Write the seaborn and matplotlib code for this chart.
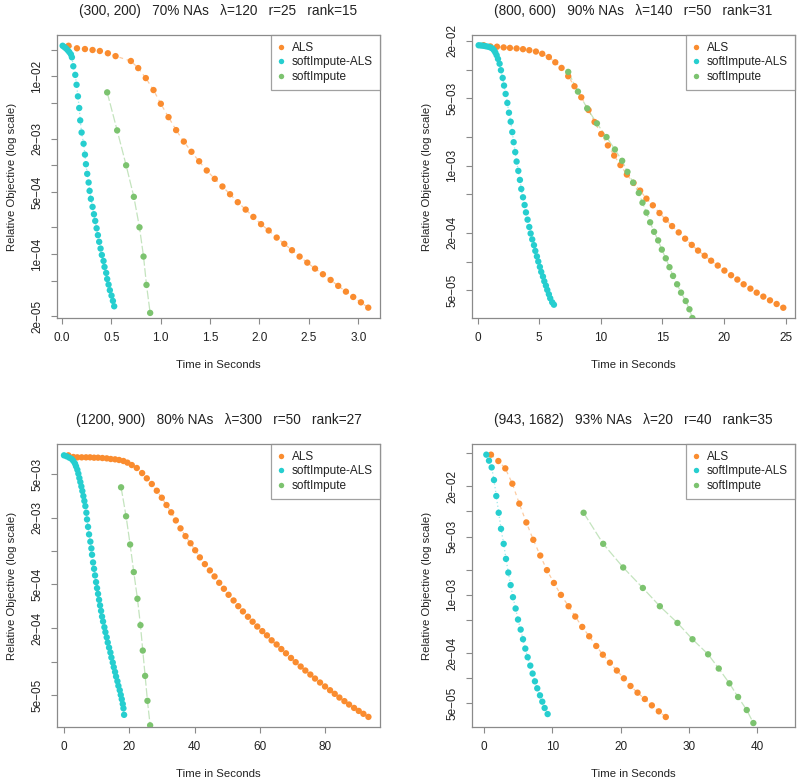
import numpy as np
import pandas as pd
import matplotlib
matplotlib.use("Agg")
import matplotlib.pyplot as plt
import seaborn as sns

sns.set_style("white")
plt.rcParams['font.family'] = ['Liberation Sans', 'DejaVu Sans']

# ==============================
# data
# ==============================
methods = ["ALS", "softImpute-ALS", "softImpute"]

# --- (300, 200) ---
p1_als_t = [0.067, 0.152, 0.233, 0.310, 0.384, 0.465, 0.543, 0.698, 0.772, 0.849, 0.927, 1.001,
            1.079, 1.156, 1.234, 1.311, 1.389, 1.466, 1.547, 1.625, 1.702, 1.780, 1.860, 1.938,
            2.016, 2.093, 2.174, 2.251, 2.329, 2.406, 2.484, 2.562, 2.642, 2.720, 2.797, 2.875,
            2.949, 3.027, 3.101]
p1_als_obj = [2.21e-2, 2.07e-2, 2.03e-2, 1.98e-2, 1.93e-2, 1.82e-2, 1.69e-2, 1.49e-2, 1.24e-2,
              9.57e-3, 7.02e-3, 4.92e-3, 3.48e-3, 2.49e-3, 1.85e-3, 1.42e-3, 1.11e-3, 8.75e-4,
              7.05e-4, 5.78e-4, 4.73e-4, 3.85e-4, 3.18e-4, 2.63e-4, 2.18e-4, 1.85e-4, 1.54e-4,
              1.31e-4, 1.11e-4, 9.42e-5, 8.05e-5, 6.90e-5, 5.96e-5, 5.14e-5, 4.41e-5, 3.80e-5,
              3.31e-5, 2.88e-5, 2.51e-5]
p1_sals_t = [0.007, 0.024, 0.040, 0.057, 0.074, 0.091, 0.101, 0.115, 0.135, 0.148, 0.162, 0.175,
             0.185, 0.199, 0.219, 0.233, 0.243, 0.256, 0.270, 0.280, 0.293, 0.310, 0.324, 0.337,
             0.351, 0.364, 0.377, 0.391, 0.404, 0.421, 0.431, 0.448, 0.458, 0.472, 0.485, 0.502,
             0.516, 0.529]
p1_sals_obj = [2.21e-2, 2.14e-2, 2.07e-2, 1.98e-2, 1.88e-2, 1.77e-2, 1.64e-2, 1.30e-2, 1.04e-2,
               8.05e-3, 5.96e-3, 4.41e-3, 3.20e-3, 2.34e-3, 1.75e-3, 1.32e-3, 1.03e-3, 8.02e-4,
               6.41e-4, 5.16e-4, 4.20e-4, 3.41e-4, 2.82e-4, 2.37e-4, 1.96e-4, 1.64e-4, 1.38e-4,
               1.16e-4, 9.82e-5, 8.41e-5, 7.20e-5, 6.17e-5, 5.27e-5, 4.56e-5, 3.94e-5, 3.43e-5,
               2.99e-5, 2.60e-5]
p1_si_t = [0.458, 0.559, 0.650, 0.728, 0.785, 0.826, 0.856, 0.893]
p1_si_obj = [6.61e-3, 2.47e-3, 1.00e-3, 4.42e-4, 2.01e-4, 9.42e-5, 4.52e-5, 2.19e-5]

# --- (800, 600) ---
p2_als_t = [0.49, 1.03, 1.57, 2.11, 2.62, 3.16, 3.68, 4.19, 4.73, 5.24, 5.78, 6.30, 6.81, 7.35,
            7.86, 8.41, 9.00, 9.49, 10.03, 10.57, 11.08, 11.59, 12.11, 12.65, 13.19, 13.70, 14.22,
            14.76, 15.27, 15.78, 16.32, 16.84, 17.38, 17.89, 18.43, 18.95, 19.49, 20.03, 20.57,
            21.08, 21.59, 22.14, 22.65, 23.19, 23.73, 24.27, 24.81]
p2_als_obj = [1.79e-2, 1.74e-2, 1.73e-2, 1.70e-2, 1.68e-2, 1.66e-2, 1.63e-2, 1.59e-2, 1.54e-2,
              1.46e-2, 1.35e-2, 1.19e-2, 1.04e-2, 8.52e-3, 6.70e-3, 5.14e-3, 3.79e-3, 2.84e-3,
              2.13e-3, 1.62e-3, 1.27e-3, 1.01e-3, 8.05e-4, 6.59e-4, 5.48e-4, 4.52e-4, 3.85e-4,
              3.20e-4, 2.73e-4, 2.34e-4, 2.01e-4, 1.73e-4, 1.49e-4, 1.30e-4, 1.15e-4, 1.02e-4,
              9.08e-5, 8.05e-5, 7.20e-5, 6.49e-5, 5.79e-5, 5.22e-5, 4.74e-5, 4.31e-5, 3.94e-5,
              3.61e-5, 3.30e-5]
p2_sals_t = [0.08, 0.27, 0.46, 0.65, 0.84, 1.03, 1.19, 1.32, 1.43, 1.54, 1.65, 1.78, 1.89, 2.03,
             2.14, 2.27, 2.41, 2.54, 2.68, 2.81, 2.92, 3.05, 3.16, 3.30, 3.43, 3.54, 3.68, 3.81,
             3.92, 4.05, 4.19, 4.30, 4.43, 4.57, 4.68, 4.81, 4.92, 5.05, 5.16, 5.30, 5.41, 5.54,
             5.65, 5.78, 5.89, 6.05, 6.19]
p2_sals_obj = [1.79e-2, 1.78e-2, 1.77e-2, 1.75e-2, 1.73e-2, 1.70e-2, 1.66e-2, 1.59e-2, 1.51e-2,
               1.41e-2, 1.29e-2, 1.15e-2, 9.84e-3, 8.18e-3, 6.81e-3, 5.57e-3, 4.49e-3, 3.55e-3,
               2.86e-3, 2.23e-3, 1.75e-3, 1.38e-3, 1.10e-3, 8.80e-4, 7.08e-4, 5.70e-4, 4.67e-4,
               3.88e-4, 3.25e-4, 2.73e-4, 2.29e-4, 1.96e-4, 1.70e-4, 1.48e-4, 1.29e-4, 1.13e-4,
               1.00e-4, 8.79e-5, 7.80e-5, 6.97e-5, 6.22e-5, 5.61e-5, 5.06e-5, 4.56e-5, 4.14e-5,
               3.76e-5, 3.55e-5]
p2_si_t = [7.35, 8.14, 8.89, 9.68, 10.46, 11.14, 11.73, 12.16, 12.62, 13.08, 13.38, 13.70, 14.00,
           14.32, 14.65, 14.95, 15.27, 15.57, 15.86, 16.19, 16.51, 16.89, 17.19, 17.43]
p2_si_obj = [9.45e-3, 5.89e-3, 3.94e-3, 2.75e-3, 1.98e-3, 1.47e-3, 1.12e-3, 8.59e-4, 6.64e-4,
             5.18e-4, 4.10e-4, 3.23e-4, 2.56e-4, 2.04e-4, 1.66e-4, 1.33e-4, 1.08e-4, 8.73e-5,
             7.08e-5, 5.79e-5, 4.74e-5, 3.88e-5, 3.18e-5, 2.58e-5]

# --- (1200, 900) ---
p3_als_t = [1.43, 2.96, 4.18, 5.51, 6.84, 8.06, 9.29, 10.51, 11.84, 13.16, 14.39, 15.71, 16.94,
            18.27, 19.49, 20.82, 22.35, 23.98, 25.41, 26.94, 28.47, 30.00, 31.43, 32.86, 34.29,
            35.71, 37.24, 38.78, 40.20, 41.63, 43.16, 44.69, 46.12, 47.55, 48.98, 50.41, 51.94,
            53.37, 54.80, 56.33, 57.76, 59.18, 60.71, 62.14, 63.57, 65.10, 66.53, 67.96, 69.49,
            70.92, 72.45, 73.88, 75.41, 76.84, 78.37, 79.90, 81.43, 82.86, 84.29, 85.82, 87.24,
            88.78, 90.20, 91.63, 93.16]
p3_als_obj = [7.38e-3, 7.13e-3, 7.08e-3, 7.08e-3, 7.08e-3, 7.08e-3, 7.03e-3, 7.03e-3, 6.98e-3,
              6.93e-3, 6.84e-3, 6.79e-3, 6.70e-3, 6.56e-3, 6.34e-3, 6.03e-3, 5.67e-3, 5.10e-3,
              4.57e-3, 4.06e-3, 3.53e-3, 3.05e-3, 2.62e-3, 2.25e-3, 1.90e-3, 1.61e-3, 1.37e-3,
              1.18e-3, 1.02e-3, 8.79e-4, 7.64e-4, 6.70e-4, 5.91e-4, 5.18e-4, 4.57e-4, 4.03e-4,
              3.58e-4, 3.18e-4, 2.85e-4, 2.55e-4, 2.30e-4, 2.08e-4, 1.89e-4, 1.73e-4, 1.56e-4,
              1.43e-4, 1.30e-4, 1.19e-4, 1.08e-4, 9.89e-5, 9.03e-5, 8.31e-5, 7.64e-5, 7.03e-5,
              6.47e-5, 5.96e-5, 5.51e-5, 5.11e-5, 4.73e-5, 4.39e-5, 4.09e-5, 3.81e-5, 3.58e-5,
              3.37e-5, 3.16e-5]
p3_sals_t = [0.10, 0.92, 1.73, 2.45, 2.96, 3.47, 3.78, 4.18, 4.49, 4.80, 5.10, 5.41, 5.71, 6.02,
             6.33, 6.63, 6.94, 7.14, 7.45, 7.76, 8.16, 8.47, 8.67, 8.98, 9.29, 9.59, 9.90, 10.20,
             10.51, 10.82, 11.12, 11.43, 11.73, 12.04, 12.45, 12.76, 13.16, 13.47, 13.88, 14.29,
             14.59, 15.00, 15.31, 15.71, 16.02, 16.43, 16.73, 17.14, 17.45, 17.76, 18.06, 18.27,
             18.47]
p3_sals_obj = [7.38e-3, 7.23e-3, 7.03e-3, 6.84e-3, 6.56e-3, 6.21e-3, 5.87e-3, 5.47e-3, 5.04e-3,
               4.60e-3, 4.23e-3, 3.86e-3, 3.51e-3, 3.16e-3, 2.85e-3, 2.56e-3, 2.23e-3, 1.94e-3,
               1.66e-3, 1.42e-3, 1.22e-3, 1.06e-3, 9.29e-4, 7.91e-4, 6.93e-4, 6.04e-4, 5.25e-4,
               4.63e-4, 4.11e-4, 3.63e-4, 3.23e-4, 2.88e-4, 2.56e-4, 2.31e-4, 2.05e-4, 1.85e-4,
               1.66e-4, 1.49e-4, 1.34e-4, 1.21e-4, 1.09e-4, 9.82e-5, 8.91e-5, 8.07e-5, 7.33e-5,
               6.65e-5, 6.04e-5, 5.51e-5, 5.00e-5, 4.57e-5, 4.14e-5, 3.78e-5, 3.30e-5]
p3_si_t = [17.55, 19.08, 20.31, 21.43, 22.55, 23.47, 24.18, 24.90, 25.61, 26.43]
p3_si_obj = [3.79e-3, 2.07e-3, 1.15e-3, 6.47e-4, 3.71e-4, 2.14e-4, 1.26e-4, 7.43e-5, 4.42e-5,
             2.65e-5]

# --- (943, 1682) ---
p4_als_t = [1.02, 2.10, 3.12, 4.15, 5.17, 6.20, 7.22, 8.24, 9.22, 10.24, 11.27, 12.39, 13.37,
            14.39, 15.41, 16.44, 17.41, 18.44, 19.46, 20.49, 21.46, 22.49, 23.56, 24.59, 25.61,
            26.63]
p4_als_obj = [4.79e-2, 4.02e-2, 3.28e-2, 2.15e-2, 1.24e-2, 7.38e-3, 4.57e-3, 2.96e-3, 1.98e-3,
              1.39e-3, 1.00e-3, 7.31e-4, 5.50e-4, 4.13e-4, 3.19e-4, 2.44e-4, 1.92e-4, 1.54e-4,
              1.24e-4, 1.00e-4, 8.09e-5, 6.73e-5, 5.65e-5, 4.74e-5, 4.02e-5, 3.44e-5]
p4_sals_t = [0.34, 0.73, 1.12, 1.46, 1.80, 2.15, 2.49, 2.88, 3.22, 3.56, 3.90, 4.24, 4.63, 4.98,
             5.37, 5.71, 6.05, 6.39, 6.78, 7.12, 7.46, 7.80, 8.20, 8.54, 8.88, 9.32]
p4_sals_obj = [4.79e-2, 4.06e-2, 3.37e-2, 2.38e-2, 1.53e-2, 9.64e-3, 6.19e-3, 4.09e-3, 2.70e-3,
               1.85e-3, 1.31e-3, 9.38e-4, 6.86e-4, 5.06e-4, 3.84e-4, 2.94e-4, 2.27e-4, 1.79e-4,
               1.42e-4, 1.14e-4, 9.20e-5, 7.59e-5, 6.25e-5, 5.25e-5, 4.41e-5, 3.73e-5]
p4_si_t = [14.59, 17.46, 20.39, 23.27, 25.76, 28.34, 30.54, 32.83, 34.39, 35.95, 37.22, 38.49,
           39.46]
p4_si_obj = [9.64e-3, 4.09e-3, 2.13e-3, 1.21e-3, 7.31e-4, 4.61e-4, 2.94e-4, 1.94e-4, 1.31e-4,
             8.71e-5, 5.97e-5, 4.17e-5, 2.91e-5]

titles = ["(300, 200)   70% NAs   \u03bb=120   r=25   rank=15",
          "(800, 600)   90% NAs   \u03bb=140   r=50   rank=31",
          "(1200, 900)   80% NAs   \u03bb=300   r=50   rank=27",
          "(943, 1682)   93% NAs   \u03bb=20   r=40   rank=35"]

p1_xticks = [0.0, 0.5, 1.0, 1.5, 2.0, 2.5, 3.0]
p1_xlabels = ["0.0", "0.5", "1.0", "1.5", "2.0", "2.5", "3.0"]
p2_xticks = [0, 5, 10, 15, 20, 25]
p3_xticks = [0, 20, 40, 60, 80]
p4_xticks = [0, 10, 20, 30, 40]

p1_yticks = [2e-2, 1e-2, 5e-3, 2e-3, 1e-3, 5e-4, 2e-4, 1e-4, 5e-5, 2e-5]
p1_ylabels = ["", "1e\u221202", "", "2e\u221203", "", "5e\u221204", "", "1e\u221204", "", "2e\u221205"]
p2_yticks = [2e-2, 1e-2, 5e-3, 2e-3, 1e-3, 5e-4, 2e-4, 1e-4, 5e-5]
p2_ylabels = ["2e\u221202", "", "5e\u221203", "", "1e\u221203", "", "2e\u221204", "", "5e\u221205"]
p3_yticks = [5e-3, 2e-3, 1e-3, 5e-4, 2e-4, 1e-4, 5e-5]
p3_ylabels = ["5e\u221203", "2e\u221203", "", "5e\u221204", "2e\u221204", "", "5e\u221205"]
p4_yticks = [5e-2, 2e-2, 1e-2, 5e-3, 2e-3, 1e-3, 5e-4, 2e-4, 1e-4, 5e-5]
p4_ylabels = ["", "2e\u221202", "", "5e\u221203", "", "1e\u221203", "", "2e\u221204", "", "5e\u221205"]

# ==============================
# styling
# ==============================
colors = {"ALS": "#FA8C2F", "softImpute-ALS": "#26CECF", "softImpute": "#7CC36F"}
dash_map = {"ALS": (3, 3), "softImpute-ALS": (1, 2), "softImpute": (7, 2)}
frame_col = "#8a8a8a"
text_col = "#222222"

panels = [
    dict(series=[(p1_als_t, p1_als_obj), (p1_sals_t, p1_sals_obj), (p1_si_t, p1_si_obj)],
         xlim=(-0.05, 3.22), ylim=(1.92e-5, 2.92e-2),
         xt=p1_xticks, xl=p1_xlabels, yt=p1_yticks, yl=p1_ylabels,
         rect=[57 / 800, 1 - 318 / 784, 323 / 800, 283 / 784]),
    dict(series=[(p2_als_t, p2_als_obj), (p2_sals_t, p2_sals_obj), (p2_si_t, p2_si_obj)],
         xlim=(-0.46, 25.76), ylim=(2.58e-5, 2.29e-2),
         xt=p2_xticks, xl=[str(v) for v in p2_xticks], yt=p2_yticks, yl=p2_ylabels,
         rect=[472 / 800, 1 - 318 / 784, 323 / 800, 283 / 784]),
    dict(series=[(p3_als_t, p3_als_obj), (p3_sals_t, p3_sals_obj), (p3_si_t, p3_si_obj)],
         xlim=(-2.04, 96.7), ylim=(2.56e-5, 9.35e-3),
         xt=p3_xticks, xl=[str(v) for v in p3_xticks], yt=p3_yticks, yl=p3_ylabels,
         rect=[57 / 800, 1 - 727 / 784, 323 / 800, 283 / 784]),
    dict(series=[(p4_als_t, p4_als_obj), (p4_sals_t, p4_sals_obj), (p4_si_t, p4_si_obj)],
         xlim=(-1.76, 45.56), ylim=(2.61e-5, 6.43e-2),
         xt=p4_xticks, xl=[str(v) for v in p4_xticks], yt=p4_yticks, yl=p4_ylabels,
         rect=[472 / 800, 1 - 727 / 784, 323 / 800, 283 / 784]),
]

fig = plt.figure(figsize=(8, 7.84), dpi=100)

for i, p in enumerate(panels):
    ax = fig.add_axes(p["rect"])
    df = pd.concat([pd.DataFrame({"Time": t, "Obj": o, "Method": m})
                    for m, (t, o) in zip(methods, p["series"])], ignore_index=True)

    sns.lineplot(data=df, x="Time", y="Obj", hue="Method", style="Method",
                 hue_order=methods, style_order=methods, palette=colors, dashes=dash_map,
                 sort=False, estimator=None, lw=0.9, alpha=0.45, legend=False, ax=ax)
    sns.scatterplot(data=df, x="Time", y="Obj", hue="Method", hue_order=methods,
                    palette=colors, s=21, linewidth=0, ax=ax, zorder=3)

    ax.set_yscale("log")
    ax.set_xlim(*p["xlim"])
    ax.set_ylim(*p["ylim"])
    ax.set_xticks(p["xt"])
    ax.set_xticklabels(p["xl"])
    ax.set_yticks(p["yt"])
    ax.set_yticklabels(p["yl"], rotation=90, va="center")
    ax.minorticks_off()

    for sp in ax.spines.values():
        sp.set_visible(True)
        sp.set_color(frame_col)
        sp.set_linewidth(0.9)
    ax.tick_params(axis="both", which="major", direction="out", length=4, width=0.8,
                   color=frame_col, labelsize=8.5, labelcolor=text_col, pad=6,
                   bottom=True, left=True)

    ax.set_title(titles[i], fontsize=9.8, color=text_col, pad=14.5)
    ax.set_xlabel("Time in Seconds", fontsize=8.2, color=text_col, labelpad=11.5)
    ax.set_ylabel("Relative Objective (log scale)", fontsize=8.2, color=text_col, labelpad=10.5)

    h, l = ax.get_legend_handles_labels()
    keep = [(hh, ll) for hh, ll in zip(h, l) if ll in methods]
    leg = ax.legend([k[0] for k in keep], [k[1] for k in keep], loc="upper right",
                    borderaxespad=0, frameon=True, fancybox=False, edgecolor=frame_col,
                    fontsize=8.5, handletextpad=0.6, borderpad=0.59, labelspacing=0.2,
                    handlelength=0.6, markerscale=0.85)
    leg.get_frame().set_linewidth(0.9)
    for txt in leg.get_texts():
        txt.set_color(text_col)

fig.savefig("out.png", dpi=100)
